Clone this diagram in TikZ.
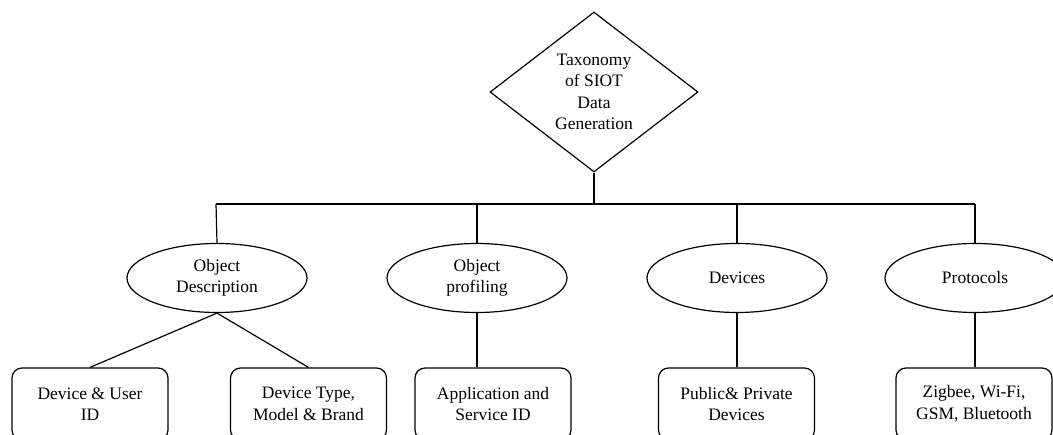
\documentclass[tikz,border=0pt]{standalone}
\usepackage{fontspec}
\setmainfont{Liberation Serif}
\usetikzlibrary{shapes.geometric}
\begin{document}
\begin{tikzpicture}[x=1pt,y=-1pt,line width=1.2pt,
  every node/.style={font=\fontsize{17.5}{21.5}\selectfont, align=center, inner sep=0pt},
  rootshape/.style={draw, diamond, aspect=1.3, minimum width=208, minimum height=160},
  cat/.style={draw, ellipse, minimum width=180, minimum height=69},
  leaf/.style={draw, rounded corners=10pt, minimum width=156, minimum height=72}]
\useasboundingbox (0,0) rectangle (1053,435);
\node[rootshape] (root) at (594,92) {Taxonomy\\of SIOT\\Data\\Generation};
\coordinate (busL) at (216,204);
\coordinate (busR) at (975,204);
\node[cat] (od) at (217,278) {Object\\Description};
\node[cat] (op) at (477,278) {Object\\profiling};
\node[cat] (dev) at (737,278) {Devices};
\node[cat] (pro) at (975,278) {Protocols};
\node[leaf] (l1) at (90,404) {Device \& User\\ID};
\node[leaf] (l2) at (308.5,404) {Device Type,\\Model \& Brand};
\node[leaf] (l3) at (493,404) {Application and\\Service ID};
\node[leaf] (l4) at (736.5,404) {Public\& Private\\Devices};
\node[leaf] (l5) at (974,404) {Zigbee, Wi-Fi,\\GSM, Bluetooth};
\draw (root.south) -- (root.south |- busL);
\draw (busL) -- (busR);
\draw (busL) -- (od.north);
\draw (op.north |- busL) -- (op.north);
\draw (dev.north |- busL) -- (dev.north);
\draw (busR) -- (pro.north);
\draw (od.south) -- (l1.north);
\draw (od.south) -- (l2.north);
\draw (op.south) -- (op.south |- l3.north);
\draw (dev.south) -- (dev.south |- l4.north);
\draw (pro.south) -- (pro.south |- l5.north);
\end{tikzpicture}
\end{document}
